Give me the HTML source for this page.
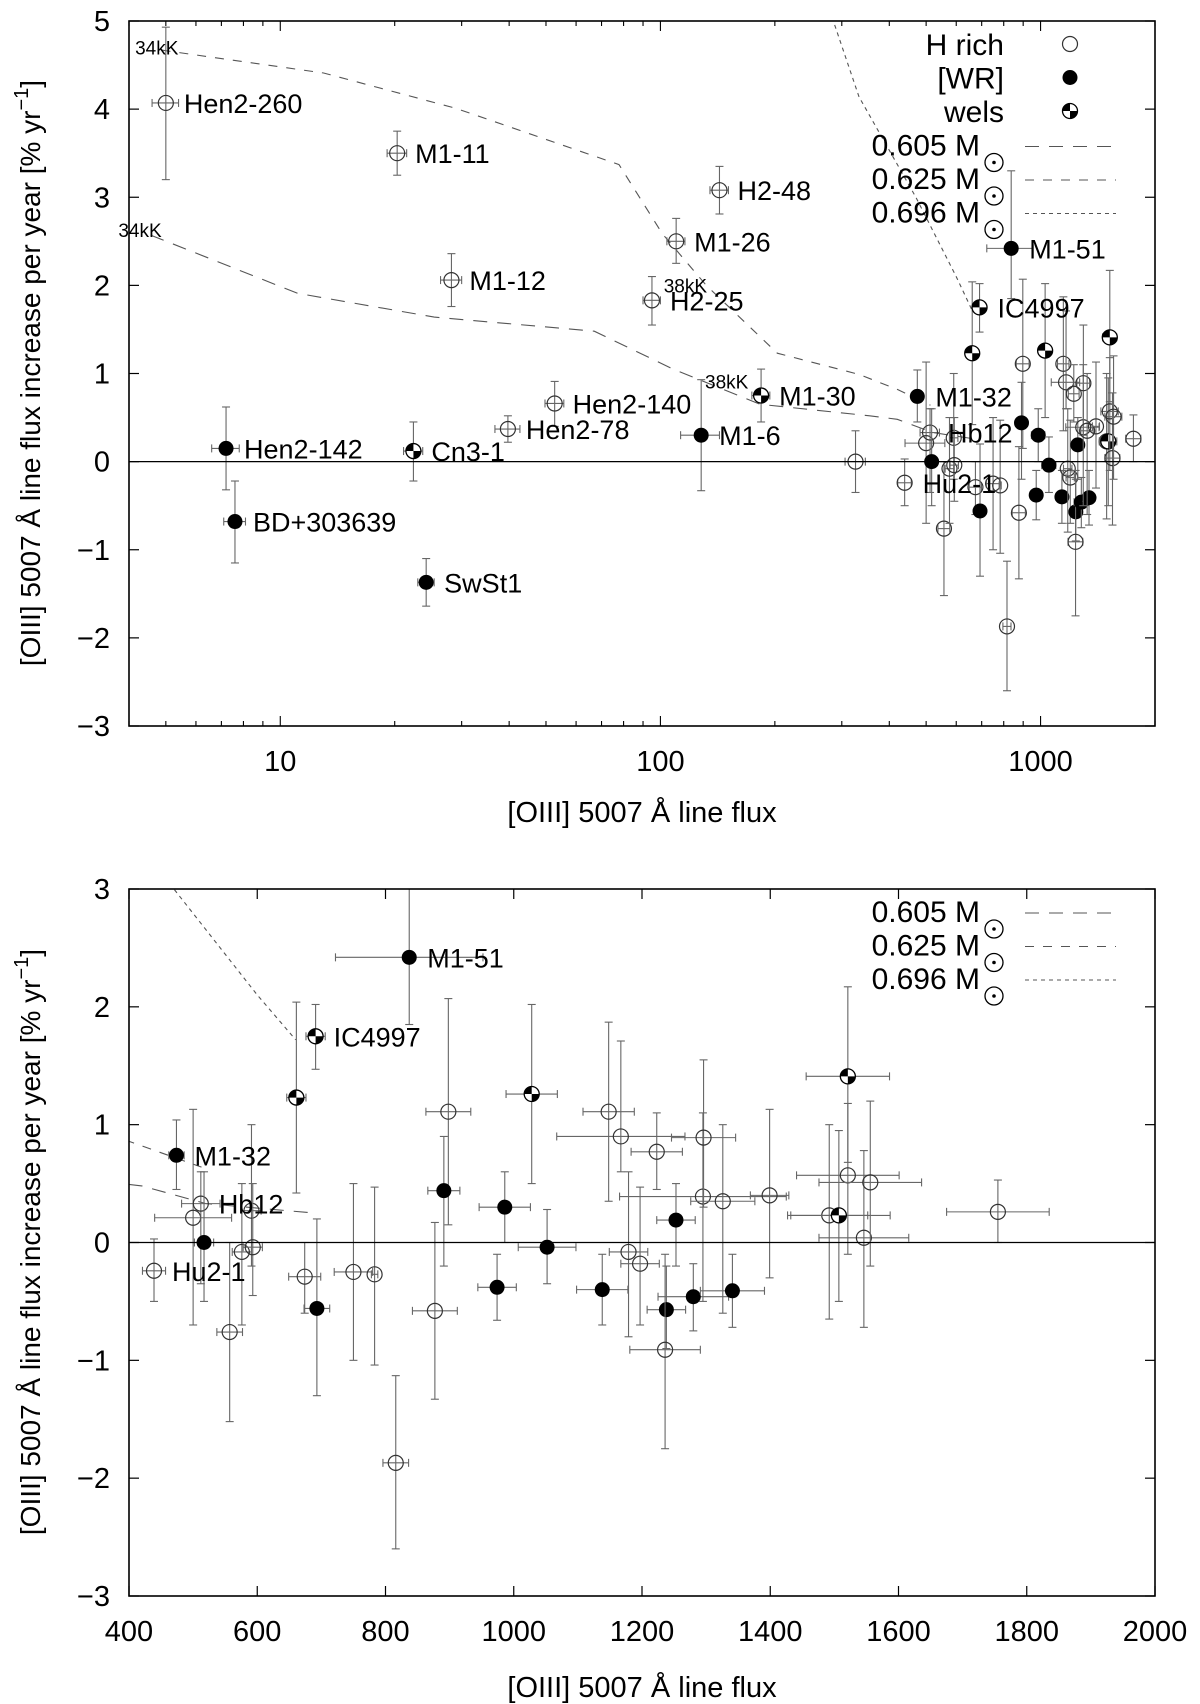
<!DOCTYPE html>
<html><head><meta charset="utf-8"><style>html,body{margin:0;padding:0;background:#fff}svg{display:block}text{font-family:"Liberation Sans",sans-serif;fill:#000}</style></head>
<body>
<svg id="chart" xmlns="http://www.w3.org/2000/svg" width="1200" height="1704" viewBox="0 0 1200 1704">
<defs>
<clipPath id="clipT"><rect x="129" y="21" width="1026" height="705"/></clipPath>
<clipPath id="clipB"><rect x="129" y="889" width="1026" height="707"/></clipPath>
</defs>
<g id="top"></g>
<g id="bot"></g>
</svg>
<script>
const names=["Hen2-260","M1-11","M1-12","H2-48","M1-26","H2-25","Hen2-140","Hen2-78","Cn3-1","Hen2-142","BD+303639","SwSt1","M1-6","M1-30","","Hu2-1","M1-32","","Hb12","","","","","","","IC4997","","","","","M1-51","","","","","","","","","","","","","","","","","","","","","","","","","","","","",""];
const flux=[5.0,20.3,28.2,143,110,95,52.7,39.7,22.4,7.2,7.6,24.2,128,184,326,439,474,500,512,517,557,576,591,593,661,691,674,693,750,783,837,816,877,898,891,974,986,1028,1052,1138,1148,1167,1179,1197,1223,1238,1236,1253,1280,1341,1295,1296,1326,1399,1492,1507,1521,1521,1546,1556,1755];
const rate=[4.07,3.5,2.06,3.08,2.5,1.83,0.66,0.37,0.12,0.15,-0.68,-1.37,0.3,0.75,0.0,-0.24,0.74,0.21,0.33,0.0,-0.76,-0.08,0.27,-0.04,1.23,1.75,-0.29,-0.56,-0.25,-0.27,2.42,-1.87,-0.58,1.11,0.44,-0.38,0.30,1.26,-0.04,-0.4,1.11,0.9,-0.08,-0.18,0.77,-0.57,-0.91,0.19,-0.46,-0.41,0.39,0.89,0.35,0.4,0.23,0.23,1.41,0.57,0.04,0.51,0.26];
const rateLo=[3.2,3.25,1.76,2.81,2.25,1.55,0.4,0.22,-0.22,-0.32,-1.15,-1.64,-0.33,0.45,-0.35,-0.5,0.45,-0.7,-0.35,-0.5,-1.52,-0.7,-0.2,-0.45,0.42,1.47,-0.6,-1.3,-1.0,-1.04,1.85,-2.6,-1.33,0.15,-0.2,-0.66,0.0,0.5,-0.35,-0.7,0.35,0.6,-0.8,-0.7,0.45,-0.9,-1.75,-0.2,-0.75,-0.72,-0.5,0.3,-0.6,-0.3,-0.65,-0.5,0.68,-0.1,-0.72,-0.2,0.0];
const rateHi=[4.93,3.75,2.36,3.35,2.76,2.1,0.91,0.52,0.45,0.62,-0.22,-1.1,0.93,1.05,0.35,0.03,1.04,1.13,0.6,0.6,0.0,0.5,1.0,0.5,2.04,2.02,0.0,0.2,0.5,0.47,3.3,-1.13,0.17,2.07,0.9,-0.1,0.6,2.02,0.28,-0.1,1.87,1.71,0.6,0.47,1.1,-0.2,-0.1,0.5,-0.18,-0.1,1.1,1.55,1.0,1.13,1.0,0.95,2.17,1.18,0.78,1.2,0.53];
const fluxErr=[0.4,1.2,1.8,8,6,5,3,3,1.3,0.6,0.5,1.2,15,10,20,18,12,60,30,15,20,15,15,15,15,15,25,20,30,5,115,20,35,35,25,30,40,40,45,40,40,100,30,30,40,30,55,30,55,50,130,50,50,30,60,80,65,80,70,80,80];
const kind=["o","o","o","o","o","o","o","o","w","s","s","s","s","w","o","o","s","o","o","s","o","o","o","o","w","w","o","s","o","o","s","o","o","o","s","s","s","w","s","s","o","o","o","o","o","s","o","s","s","s","o","o","o","o","o","w","w","o","o","o","o"];
const m605X=[4.56,11.1,25.4,67,108,183,355,420,520,688];
const m605Y=[2.57,1.91,1.64,1.48,1.05,0.65,0.52,0.48,0.33,0.25];
const m625X=[4.87,13,28.9,77.8,101,132,203,333,420,513];
const m625Y=[4.67,4.41,4.01,3.37,2.59,2.0,1.23,0.99,0.82,0.64];
const m696X=[270,333,470,600,660];
const m696Y=[5.3,4.14,3.0,2.1,1.72];
const topYTicks=[5,4,3,2,1,0,-1,-2,-3];
const botYTicks=[3,2,1,0,-1,-2,-3];
const topXTicks=[10,100,1000];
const botXTicks=[400,600,800,1000,1200,1400,1600,1800,2000];

const NS="http://www.w3.org/2000/svg";
const L=129,R=1155;
const lmin=Math.log10(4),lmax=Math.log10(2000);
const xT=v=>L+(Math.log10(v)-lmin)/(lmax-lmin)*(R-L);
const yT=v=>21+(5-v)*(705/8);
const xB=v=>L+(v-400)/1600*(R-L);
const yB=v=>889+(3-v)*(707/6);
function mk(p,tag,at){const e=document.createElementNS(NS,tag);for(const k in at)e.setAttribute(k,at[k]);p.appendChild(e);return e;}
function txt(p,x,y,s,size,anchor){const t=mk(p,"text",{x:x,y:y,"font-size":size,"text-anchor":anchor||"start"});t.textContent=s;return t;}

function panel(g,xs,ys,top,bottom,clip,isLog,yTicks,xTicks){
  const cg=mk(g,"g",{"clip-path":"url(#"+clip+")"});
  const z=mk(g,"line",{x1:L,x2:R,y1:ys(0),y2:ys(0),stroke:"#000","stroke-width":1.3});
  
  
  const models=[[m605X,m605Y,"14 10","0.605"],[m625X,m625Y,"9 9","0.625"],[m696X,m696Y,"4 4","0.696"]];
  models.forEach(m=>{
    let d="";m[0].forEach((v,i)=>{d+=(i?"L":"M")+xs(v).toFixed(1)+","+ys(m[1][i]).toFixed(1);});
    const p=mk(cg,"path",{d:d,fill:"none",stroke:"#555","stroke-width":1.1,"stroke-dasharray":m[2]});
    
    
  });
  if(isLog){
    [[xs(4.15),ys(4.62),"34kK"],[xs(3.75),ys(2.55),"34kK"],[xs(102),ys(1.92),"38kK"],[xs(131),ys(0.83),"38kK"]].forEach(a=>{
      const t=txt(g,a[0],a[1],a[2],19);
      
      
    });
  }
  flux.forEach((f,i)=>{
    if(!isLog && f<400) return;
    const px=xs(f),py=ys(rate[i]);
    const pg=mk(cg,"g",{});
    
    
    const x1=xs(f-fluxErr[i]),x2=xs(f+fluxErr[i]),y1=ys(rateLo[i]),y2=ys(rateHi[i]);
    const st={stroke:"#666","stroke-width":1.1};
    mk(pg,"line",Object.assign({x1:px,x2:px,y1:y1,y2:y2},st));
    mk(pg,"line",Object.assign({x1:px-4,x2:px+4,y1:y1,y2:y1},st));
    mk(pg,"line",Object.assign({x1:px-4,x2:px+4,y1:y2,y2:y2},st));
    mk(pg,"line",Object.assign({x1:x1,x2:x2,y1:py,y2:py},st));
    mk(pg,"line",Object.assign({x1:x1,x2:x1,y1:py-4,y2:py+4},st));
    mk(pg,"line",Object.assign({x1:x2,x2:x2,y1:py-4,y2:py+4},st));
    drawSym(pg,px,py,kind[i]);
    if(names[i]){
      const t=txt(g,px+18,py+10,names[i],27);
      
      
    }
  });
  const fr=mk(g,"rect",{x:L,y:top,width:R-L,height:bottom-top,fill:"none",stroke:"#000","stroke-width":1.6});
  
  
  yTicks.forEach(v=>{
    mk(g,"line",{x1:L,x2:L+10,y1:ys(v),y2:ys(v),stroke:"#000","stroke-width":1.2});
    mk(g,"line",{x1:R,x2:R-10,y1:ys(v),y2:ys(v),stroke:"#000","stroke-width":1.2});
    const t=txt(g,110,ys(v)+10,v<0?"\u2212"+(-v):String(v),29,"end");
    
    
  });
  if(isLog){
    for(let dec=1;dec<=1000;dec*=10){for(let k=1;k<10;k++){const v=dec*k;if(v<4||v>2000)continue;
      const len=k===1?10:5;
      mk(g,"line",{x1:xs(v),x2:xs(v),y1:bottom,y2:bottom-len,stroke:"#000","stroke-width":1.1});
      mk(g,"line",{x1:xs(v),x2:xs(v),y1:top,y2:top+len,stroke:"#000","stroke-width":1.1});}}
  } else {
    xTicks.forEach(v=>{mk(g,"line",{x1:xs(v),x2:xs(v),y1:bottom,y2:bottom-10,stroke:"#000","stroke-width":1.2});mk(g,"line",{x1:xs(v),x2:xs(v),y1:top,y2:top+10,stroke:"#000","stroke-width":1.2});});
  }
  xTicks.forEach(v=>{
    const t=txt(g,xs(v),bottom+45,String(v),29,"middle");
    
    
  });
}
function drawSym(p,x,y,k){
  const r=7.5;
  if(k==="s"){mk(p,"circle",{cx:x,cy:y,r:r,fill:"#000"});}
  else if(k==="w"){
    mk(p,"circle",{cx:x,cy:y,r:r,fill:"#fff",stroke:"#000","stroke-width":1.3});
    mk(p,"path",{d:`M${x},${y}L${x-r},${y}A${r},${r} 0 0 1 ${x},${y-r}Z M${x},${y}L${x+r},${y}A${r},${r} 0 0 1 ${x},${y+r}Z`,fill:"#000"});
  } else {mk(p,"circle",{cx:x,cy:y,r:r,fill:"none",stroke:"#333","stroke-width":1.2});}
}
function sun(p,x,y){mk(p,"circle",{cx:x,cy:y,r:9,fill:"none",stroke:"#000","stroke-width":1.3});mk(p,"circle",{cx:x,cy:y,r:1.8,fill:"#000"});}
function legend(g,y0,withTypes){
  let y=y0;
  if(withTypes){
    [["H rich","o"],["[WR]","s"],["wels","w"]].forEach(a=>{
      const lg=mk(g,"g",{});
      
      
      txt(lg,1004,y,a[0],30,"end");drawSym(lg,1070,y-11,a[1]);y+=33.5;
    });
  }
  [["0.605","14 10"],["0.625","9 9"],["0.696","4 4"]].forEach(a=>{
    const lg=mk(g,"g",{});
    
    
    txt(lg,980,y,a[0]+" M",30,"end");sun(lg,994,y+7);
    mk(lg,"line",{x1:1025,x2:1116,y1:y-9,y2:y-9,stroke:"#555","stroke-width":1.1,"stroke-dasharray":a[1]});
    y+=33.5;
  });
}
function ytitle(g,cy){
  const t=mk(g,"text",{x:0,y:0,"font-size":28,"text-anchor":"middle",transform:`translate(40,${cy}) rotate(-90)`});
  
  
  t.appendChild(document.createTextNode("[OIII] 5007 \u00C5 line flux increase per year [% yr"));
  const s=document.createElementNS(NS,"tspan");s.setAttribute("dy","-12");s.setAttribute("font-size","20");s.textContent="\u22121";t.appendChild(s);
  const s2=document.createElementNS(NS,"tspan");s2.setAttribute("dy","12");s2.textContent="]";t.appendChild(s2);
}
function xtitle(g,y){const t=txt(g,(L+R)/2,y,"[OIII] 5007 \u00C5 line flux",29,"middle");
  
  }

const gT=document.getElementById("top"),gB=document.getElementById("bot");
panel(gT,xT,yT,21,726,"clipT",true,topYTicks,topXTicks);
legend(gT,55,true);ytitle(gT,373);xtitle(gT,822);
panel(gB,xB,yB,889,1596,"clipB",false,botYTicks,botXTicks);
legend(gB,922,false);ytitle(gB,1242);xtitle(gB,1697);
</script>
</body></html>
